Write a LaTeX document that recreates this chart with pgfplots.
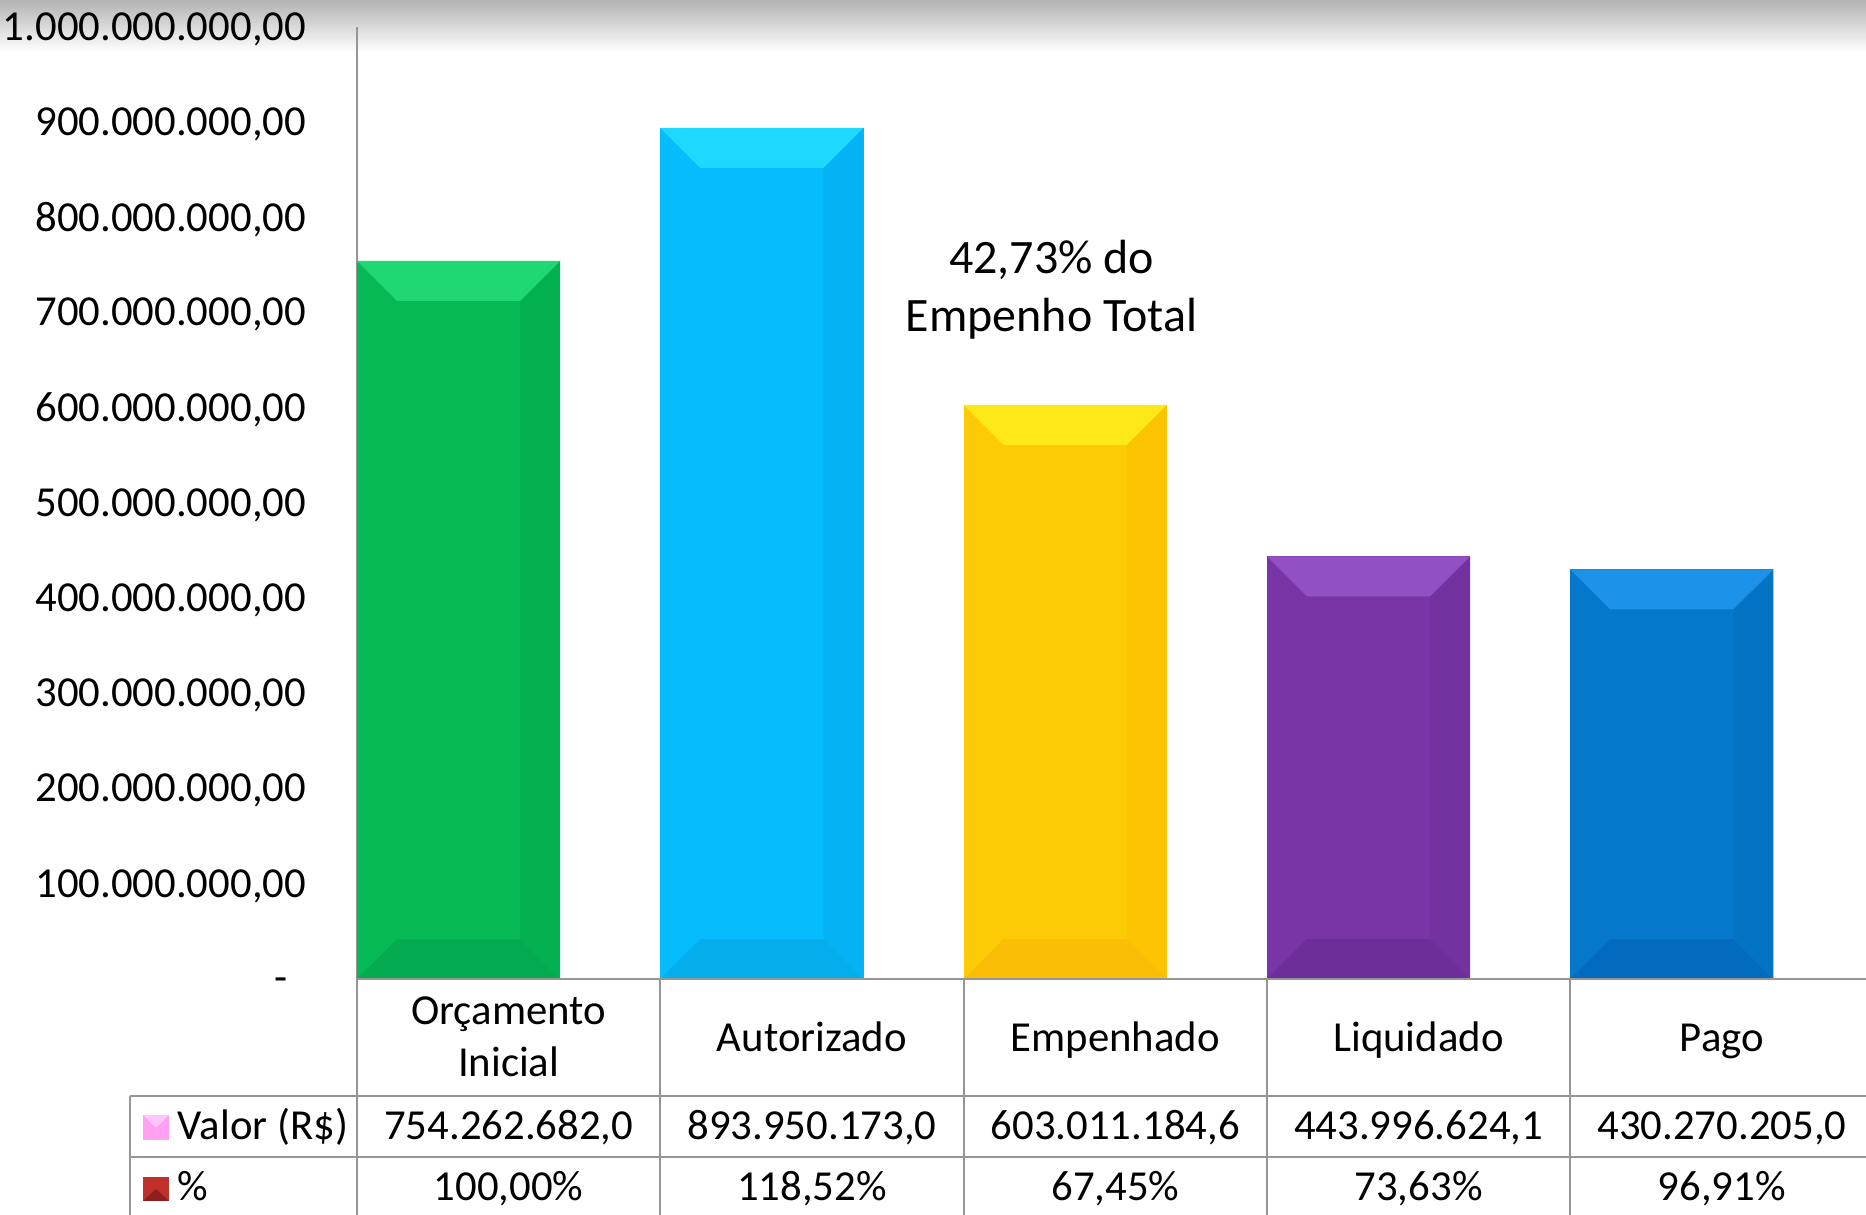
\documentclass[border=0pt]{standalone}
\usepackage{pgfplots}
\pgfplotsset{compat=1.18}
\usetikzlibrary{fadings}
\usepackage{fontspec}
\setmainfont{Carlito}

\definecolor{gMain}{HTML}{07B955}
\definecolor{gTop}{HTML}{20D873}
\definecolor{gRight}{HTML}{04B150}
\definecolor{gBot}{HTML}{03AA4F}
\definecolor{cMain}{HTML}{06BCFD}
\definecolor{cTop}{HTML}{1ED8FF}
\definecolor{cRight}{HTML}{05B3F5}
\definecolor{cBot}{HTML}{03AEEA}
\definecolor{yMain}{HTML}{FDCA06}
\definecolor{yTop}{HTML}{FDE81A}
\definecolor{yRight}{HTML}{FCC303}
\definecolor{yBot}{HTML}{FBBD05}
\definecolor{pMain}{HTML}{7935A8}
\definecolor{pTop}{HTML}{9150C3}
\definecolor{pRight}{HTML}{7332A0}
\definecolor{pBot}{HTML}{6C2E98}
\definecolor{bMain}{HTML}{0578CB}
\definecolor{bTop}{HTML}{1C92E8}
\definecolor{bRight}{HTML}{0473C3}
\definecolor{bBot}{HTML}{036BBD}
\definecolor{gridc}{HTML}{969696}
\definecolor{keyPink}{HTML}{FFA0F2}
\definecolor{keyPinkL}{HTML}{FFC4F8}
\definecolor{keyRed}{HTML}{C0302C}
\definecolor{keyRedD}{HTML}{8E1F1C}

\tikzfading[name=softx, left color=transparent!100, middle color=transparent!0, right color=transparent!100]

% #1 = bar centre (category i - 0.1655), #2 = value in millions of R$, #3 = colour prefix
\newcommand{\bevelbar}[3]{%
  \pgfmathsetmacro\bL{#1-0.3345}%
  \pgfmathsetmacro\bR{#1+0.3355}%
  \pgfmathsetmacro\bLi{\bL+0.132}%
  \pgfmathsetmacro\bRi{\bR-0.132}%
  \pgfmathsetmacro\bT{#2}%
  \pgfmathsetmacro\bTi{#2-42}%
  \addplot[ybar, bar width=0.67, bar shift=0.0005, fill=#3Main, draw=none] coordinates {(#1,#2)};
  \edef\tmp{%
    \noexpand\addplot[fill=#3Bot, draw=none] coordinates {(\bL,0) (\bR,0) (\bRi,42) (\bLi,42)} -- cycle;
    \noexpand\addplot[fill=#3Right, draw=none] coordinates {(\bR,\bT) (\bR,0) (\bRi,42) (\bRi,\bTi)} -- cycle;
    \noexpand\addplot[fill=#3Top, draw=none] coordinates {(\bL,\bT) (\bR,\bT) (\bRi,\bTi) (\bLi,\bTi)} -- cycle;
  }%
  \tmp
}

\newcommand{\tfont}{\fontsize{8.55}{10.4}\selectfont}

\begin{document}
\begin{tikzpicture}
\useasboundingbox (0pt,0pt) rectangle (373.2pt,-243pt);
\begin{scope}[x=0.2pt,y=-0.2pt]
  \shade[top color=black!30, bottom color=white] (0,0) rectangle (1866,52);
  \shade[top color=black!40, bottom color=white, path fading=softx] (450,0) rectangle (1500,42);
\end{scope}

\begin{axis}[
  at={(71.4pt,-195.8pt)}, anchor=south west,
  scale only axis, width=303.3pt, height=190.4pt,
  xmin=-0.5, xmax=4.5, ymin=0, ymax=1000,
  axis x line=none, axis y line=left,
  axis line style={-, draw=gridc, line width=0.4pt},
  ytick={0,100,200,300,400,500,600,700,800,900,1000},
  yticklabels={{\rule[-1.9pt]{0pt}{8pt}-\rule{3.6pt}{0pt}},{100.000.000,00},{200.000.000,00},{300.000.000,00},{400.000.000,00},{500.000.000,00},{600.000.000,00},{700.000.000,00},{800.000.000,00},{900.000.000,00},{1.000.000.000,00}},
  yticklabel style={font=\tfont, anchor=east, inner sep=0pt, xshift=-10pt, yshift=-0.45pt},
  major tick length=0pt,
  clip=false,
]
  % values in millions of R$
  \bevelbar{-0.1655}{754.2626820}{g}
  \bevelbar{0.8345}{893.9501730}{c}
  \bevelbar{1.8345}{603.0111846}{y}
  \bevelbar{2.8345}{443.9966241}{p}
  \bevelbar{3.8345}{430.2702050}{b}
  \node[align=center, font=\fontsize{9.6}{11.6}\selectfont] at (axis cs:1.79,724.5) {42,73\% do\\Empenho Total};
\end{axis}

\begin{scope}[x=0.2pt,y=-0.2pt]
  \draw[gridc, line width=0.4pt] (357,979) -- (1880,979);
  \draw[gridc, line width=0.4pt] (130,1096) -- (1880,1096);
  \draw[gridc, line width=0.4pt] (130,1157) -- (1880,1157);
  \draw[gridc, line width=0.4pt] (130,1096) -- (130,1220);
  \foreach \xx in {357,660.3,963.6,1266.9,1570.2}
    \draw[gridc, line width=0.4pt] (\xx,979) -- (\xx,1220);
  % header row
  \node[font=\tfont, anchor=base] at (508.7,1025) {Orçamento};
  \node[font=\tfont, anchor=base] at (508.7,1077) {Inicial};
  \node[font=\tfont, anchor=base] at (812,1052) {Autorizado};
  \node[font=\tfont, anchor=base] at (1115.3,1052) {Empenhado};
  \node[font=\tfont, anchor=base] at (1418.6,1052) {Liquidado};
  \node[font=\tfont, anchor=base] at (1721.9,1052) {Pago};
  % legend keys
  \fill[keyPink] (143,1115) rectangle (169,1140);
  \fill[keyPinkL] (143,1115) -- (169,1115) -- (156,1128) -- cycle;
  \fill[keyRed] (143,1177) rectangle (169,1201);
  \fill[keyRedD] (143,1201) -- (169,1201) -- (156,1189) -- cycle;
  \node[font=\tfont, anchor=base west, inner sep=0pt] at (177,1140) {Valor (R\$)};
  \node[font=\tfont, anchor=base west, inner sep=0pt] at (177,1201) {\%};
  % values row
  \node[font=\tfont, anchor=base] at (508.7,1140) {754.262.682,0};
  \node[font=\tfont, anchor=base] at (812,1140) {893.950.173,0};
  \node[font=\tfont, anchor=base] at (1115.3,1140) {603.011.184,6};
  \node[font=\tfont, anchor=base] at (1418.6,1140) {443.996.624,1};
  \node[font=\tfont, anchor=base] at (1721.9,1140) {430.270.205,0};
  % percent row
  \node[font=\tfont, anchor=base] at (508.7,1201) {100,00\%};
  \node[font=\tfont, anchor=base] at (812,1201) {118,52\%};
  \node[font=\tfont, anchor=base] at (1115.3,1201) {67,45\%};
  \node[font=\tfont, anchor=base] at (1418.6,1201) {73,63\%};
  \node[font=\tfont, anchor=base] at (1721.9,1201) {96,91\%};
\end{scope}
\end{tikzpicture}
\end{document}
